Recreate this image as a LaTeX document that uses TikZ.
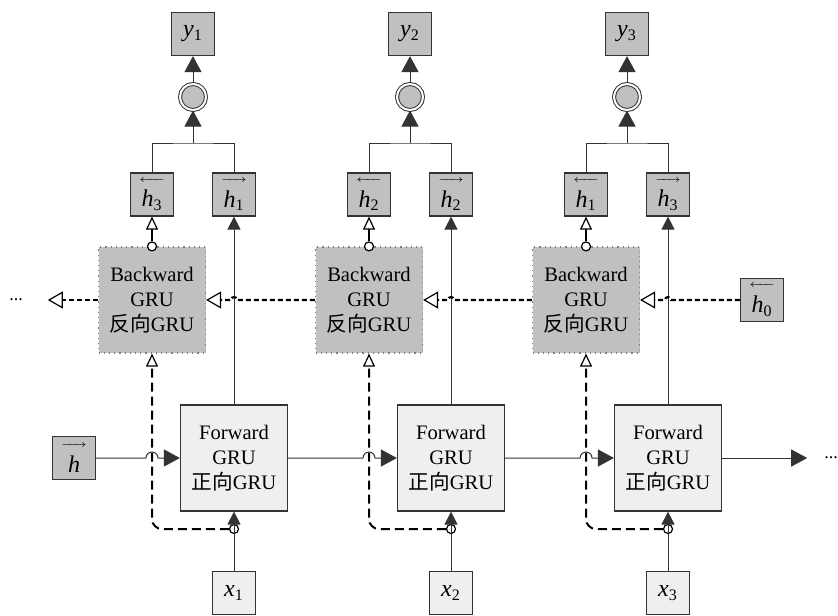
\documentclass[tikz,border=0pt]{standalone}
\usepackage{fontspec}
\setmainfont{Liberation Serif}
\newfontfamily\cjk{Noto Sans CJK SC}
\usepackage{tikz}
\usetikzlibrary{arrows.meta,positioning,calc}
\definecolor{GruDark}{HTML}{C0C0C0}
\definecolor{GruPale}{HTML}{EFEFEF}
\definecolor{GruLine}{HTML}{333333}
\newcommand\hleft[1]{\shortstack{\makebox[13pt]{\tiny\leftarrowfill}\\[1pt]\textit{h}\textsubscript{#1}}}
\newcommand\hright[1]{\shortstack{\makebox[13pt]{\tiny\rightarrowfill}\\[1pt]\textit{h}\textsubscript{#1}}}

\tikzset{
  cell/.style={minimum width=53.5pt,minimum height=53pt,align=center,inner sep=0pt,
    font=\fontsize{10.3}{12.6}\selectfont},
  fwcell/.style={cell,draw=GruLine,line width=0.6pt,fill=GruPale},
  bwcell/.style={cell,draw=gray,line width=0.6pt,dotted,fill=GruDark},
  state/.style={draw=GruLine,line width=0.6pt,fill=GruDark,minimum size=21.5pt,inner sep=0pt,
    font=\fontsize{12}{14}\selectfont},
  inbox/.style={state,fill=GruPale},
  mixer/.style={circle,draw=GruLine,line width=0.5pt,double=white,double distance=1pt,
    fill=GruDark,minimum size=13pt,inner sep=0pt},
  tap/.style={circle,draw=black,fill=white,line width=0.6pt,minimum size=4.5pt,inner sep=0pt},
  wire/.style={draw=GruLine,line width=0.5pt},
  fwd/.style={wire,-{Triangle[length=8pt,width=8.5pt]}},
  smallhead/.style={-{Triangle[length=6.5pt,width=6.5pt]}},
  bwd/.style={draw=black,line width=1.1pt,dash pattern=on 2.5pt off 1.5pt,
    -{Triangle[open,length=7.5pt,width=8.5pt,line width=0.6pt,fill=white]}},
  skip/.style={draw=black,line width=1pt,dash pattern=on 4.5pt off 2.5pt,
    -{Triangle[open,length=6.5pt,width=6pt,line width=0.6pt,fill=white]}},
  hbout/.style={draw=black,line width=1.1pt,
    -{Triangle[open,length=6.5pt,width=6pt,line width=0.6pt,fill=white]}},
}

\begin{document}
\begin{tikzpicture}[x=0.5pt,y=-0.5pt]
  \useasboundingbox (0,0) rectangle (838,615);
  \def\grucolumn#1#2#3#4{
    \node[bwcell] (bw#1) at (#2,300) {Backward\\GRU\\{\cjk 反向}GRU};
    \node[fwcell] (fw#1) at (#2+82,458) {Forward\\GRU\\{\cjk 正向}GRU};
    \node[state] (hb#1) at (#2,194.5) {\hleft{#3}};
    \node[state] (hf#1) at (#2+82,194.5) {\hright{#4}};
    \node[mixer] (mix#1) at (#2+41,97) {};
    \node[state] (y#1) at (#2+41,34) {\textit{y}\textsubscript{#1}};
    \node[inbox] (x#1) at (#2+82,593) {\textit{x}\textsubscript{#1}};
    \coordinate (join#1) at (#2+41,143);
    \node[tap] (top#1) at (bw#1.north) {};
    \node[tap] (split#1) at (#2+82,529) {};
    % outputs
    \draw[wire] (hb#1.north) |- (join#1) -| (hf#1.north);
    \draw[fwd] (join#1) -- (mix#1);
    \draw[fwd] (mix#1) -- (y#1);
    \draw[fwd,smallhead] (fw#1) -- (hf#1);
    \draw[hbout] (top#1) -- (hb#1);
    % input
    \draw[skip,rounded corners=5pt] (split#1.west) -| (bw#1.south);
    \draw[fwd,smallhead] (x#1) -- (fw#1);
  }
  \grucolumn{1}{152}{3}{1}
  \grucolumn{2}{369}{2}{2}
  \grucolumn{3}{586}{1}{3}

  \node[state] (hin) at (74,458) {\shortstack{\makebox[13pt]{\tiny\rightarrowfill}\\[1pt]\textit{h}}};
  \node[state] (hend) at (762,300) {\hleft{0}};
  \node[font=\small] (dotsL) at (16,300) {...};
  \node[font=\small] (dotsR) at (831,458) {...};

  % forward chain
  \draw[fwd] (hin) -- ($(bw1.south |- hin)+(-3pt,0)$) arc[start angle=180,end angle=0,radius=3pt] -- (fw1);
  \draw[fwd] (fw1) -- ($(bw2.south |- fw1)+(-3pt,0)$) arc[start angle=180,end angle=0,radius=3pt] -- (fw2);
  \draw[fwd] (fw2) -- ($(bw3.south |- fw2)+(-3pt,0)$) arc[start angle=180,end angle=0,radius=3pt] -- (fw3);
  \draw[fwd,shorten >=5pt] (fw3) -- (dotsR);

  % backward chain
  \draw[bwd] (hend) -- ($(fw3.north |- hend)+(1.5pt,0)$) arc[start angle=0,end angle=180,radius=1.5pt] -- (bw3);
  \draw[bwd] (bw3) -- ($(fw2.north |- bw3)+(1.5pt,0)$) arc[start angle=0,end angle=180,radius=1.5pt] -- (bw2);
  \draw[bwd] (bw2) -- ($(fw1.north |- bw2)+(1.5pt,0)$) arc[start angle=0,end angle=180,radius=1.5pt] -- (bw1);
  \draw[bwd,shorten >=9pt] (bw1) -- (dotsL);
\end{tikzpicture}
\end{document}
